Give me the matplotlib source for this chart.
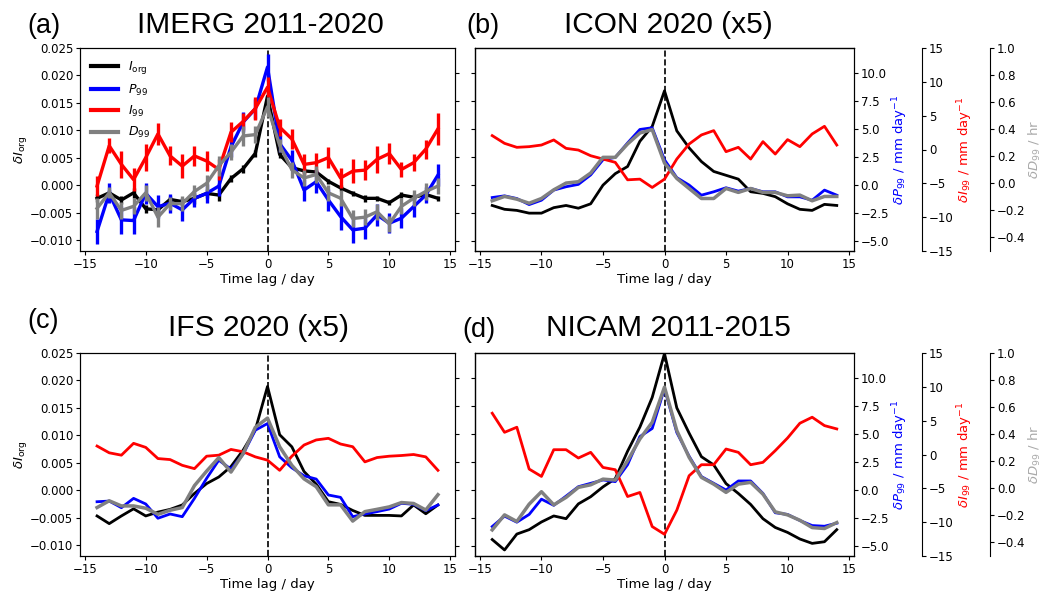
import matplotlib
matplotlib.use("Agg")
import matplotlib.pyplot as plt

days = list(range(-14, 15))

# (a) IMERG 2011-2020, with error bars
imerg_iorg = [-0.0024, -0.0014, -0.0027, -0.0014, -0.0043, -0.0045, -0.0026, -0.0030, -0.0024, -0.0015,
              -0.0018, 0.0012, 0.0030, 0.0058, 0.0162, 0.0056, 0.0032, 0.0026, 0.0024, 0.0007,
              -0.0005, -0.0015, -0.0024, -0.0024, -0.0032, -0.0018, -0.0022, -0.0017, -0.0024]
imerg_p99 = [-4.13, -0.74, -3.10, -3.16, -0.74, -1.92, -1.62, -2.21, -1.18, -0.74,
             -0.09, 3.40, 5.60, 6.79, 10.5, 3.69, 2.21, -0.44, 0.30, -1.33,
             -2.80, -3.99, -3.84, -2.66, -3.40, -2.95, -1.92, -0.89, 0.89]
imerg_i99 = [-5.4, 0.55, -2.2, -4.45, -1.2, 2.3, -0.95, -2.45, -0.95, -1.7,
             -2.95, 2.55, 4.15, 6.05, 9.2, 3.3, 1.55, -2.2, -1.95, -1.2,
             -4.2, -3.2, -3.05, -1.45, -0.6, -2.95, -1.95, 0.05, 3.05]
imerg_d99 = [-0.185, -0.07, -0.20, -0.17, -0.07, -0.25, -0.15, -0.15, -0.06, 0.0,
             0.13, 0.23, 0.35, 0.36, 0.565, 0.28, 0.10, 0.04, 0.065, -0.07,
             -0.11, -0.26, -0.25, -0.21, -0.30, -0.17, -0.11, -0.06, -0.02]
imerg_iorg_err = [0.0007, 0.0006, 0.0008, 0.0009, 0.0007, 0.0007, 0.0006, 0.0007, 0.0010, 0.0008,
                  0.0010, 0.0006, 0.0007, 0.0007, 0.0012, 0.0006, 0.0005, 0.0005, 0.0005, 0.0005,
                  0.0005, 0.0005, 0.0006, 0.0005, 0.0005, 0.0005, 0.0005, 0.0005, 0.0005]
imerg_p99_err = [1.1, 0.9, 1.25, 1.2, 0.95, 1.0, 0.85, 1.0, 0.75, 0.85,
                 0.9, 0.9, 0.9, 0.9, 1.2, 0.75, 0.9, 1.0, 1.0, 1.0,
                 1.2, 1.2, 1.0, 1.0, 0.9, 0.9, 0.9, 0.75, 1.0]
imerg_i99_err = [1.5, 1.1, 2.0, 1.75, 2.0, 1.65, 1.4, 1.75, 1.5, 1.5,
                 1.5, 1.5, 1.25, 1.75, 1.5, 1.25, 1.5, 1.5, 1.5, 1.5,
                 1.5, 1.75, 1.5, 2.0, 1.5, 1.1, 1.25, 1.4, 2.4]
imerg_d99_err = [0.075, 0.04, 0.06, 0.06, 0.06, 0.075, 0.05, 0.055, 0.05, 0.06,
                 0.075, 0.06, 0.075, 0.06, 0.075, 0.05, 0.06, 0.06, 0.06, 0.06,
                 0.06, 0.06, 0.06, 0.06, 0.06, 0.06, 0.06, 0.06, 0.06]

# (b) ICON 2020 (x5)
icon_iorg = [-0.0037, -0.0044, -0.0046, -0.0051, -0.0051, -0.0041, -0.0037, -0.0042, -0.0034, 0.0,
             0.0021, 0.0034, 0.0080, 0.0107, 0.0172, 0.0099, 0.0068, 0.0043, 0.0025, 0.0018,
             0.0011, -0.0012, -0.0015, -0.0021, -0.0034, -0.0044, -0.0046, -0.0035, -0.0037]
icon_p99 = [-1.11, -0.96, -1.20, -1.74, -1.35, -0.45, -0.15, 0.06, 0.90, 2.25,
            2.46, 3.75, 4.95, 5.10, 2.25, 0.66, 0.0, -0.90, -0.60, -0.24,
            -0.54, -0.30, -0.60, -0.60, -1.05, -1.05, -1.35, -0.45, -0.90]
icon_i99 = [2.05, 0.91, 0.32, 0.42, 0.66, 1.41, 0.17, -0.08, -0.92, -1.41,
            -1.90, -4.48, -4.38, -5.61, -4.38, -1.41, 0.81, 2.15, 2.79, -0.32,
            0.32, -1.41, 1.16, -0.67, 1.46, 0.42, 2.30, 3.43, 0.66]
icon_d99 = [-0.129, -0.097, -0.117, -0.147, -0.112, -0.048, 0.002, 0.012, 0.076, 0.192,
            0.192, 0.291, 0.372, 0.397, 0.150, 0.036, -0.038, -0.112, -0.112, -0.038,
            -0.067, -0.038, -0.067, -0.067, -0.092, -0.087, -0.129, -0.097, -0.097]

# (c) IFS 2020 (x5)
ifs_iorg = [-0.0047, -0.0061, -0.0047, -0.0034, -0.0047, -0.0040, -0.0035, -0.0027, -0.0006, 0.0012,
            0.0024, 0.0043, 0.0073, 0.0110, 0.0189, 0.0101, 0.0079, 0.0034, 0.0011, -0.0021,
            -0.0026, -0.0037, -0.0046, -0.0046, -0.0046, -0.0047, -0.0027, -0.0043, -0.0027]
ifs_p99 = [-1.04, -0.98, -1.57, -0.74, -1.24, -2.51, -2.13, -2.37, -0.74, 1.04,
           2.66, 1.86, 3.20, 5.33, 5.92, 2.96, 1.98, 1.27, 0.98, -0.44,
           -0.65, -2.37, -2.13, -1.92, -1.69, -1.18, -1.27, -1.83, -1.33]
ifs_i99 = [1.25, 0.25, -0.10, 1.65, 1.05, -0.60, -0.75, -1.60, -2.09, -0.25,
           -0.10, 0.75, 0.40, -0.35, -0.84, -2.34, -0.25, 1.40, 2.15, 2.39,
           1.55, 1.15, -1.09, -0.45, -0.25, -0.15, 0.0, -0.35, -2.34]
ifs_d99 = [-0.142, -0.092, -0.130, -0.130, -0.147, -0.192, -0.162, -0.142, 0.020, 0.127,
           0.227, 0.120, 0.257, 0.451, 0.519, 0.307, 0.170, 0.070, 0.012, -0.122,
           -0.122, -0.242, -0.172, -0.155, -0.137, -0.105, -0.112, -0.160, -0.047]

# (d) NICAM 2011-2015
nicam_iorg = [-0.0090, -0.0109, -0.0080, -0.0072, -0.0058, -0.0047, -0.0052, -0.0025, -0.0012, 0.0006,
              0.0021, 0.0071, 0.0115, 0.0169, 0.0249, 0.0150, 0.0104, 0.0061, 0.0046, 0.0012,
              -0.0006, -0.0026, -0.0052, -0.0068, -0.0077, -0.0089, -0.0097, -0.0094, -0.0072]
nicam_p99 = [-3.25, -2.32, -2.86, -2.17, -0.81, -1.36, -0.54, 0.30, 0.60, 0.90,
             0.75, 2.26, 4.76, 5.48, 9.04, 5.12, 3.01, 1.20, 0.60, 0.0,
             0.81, 0.81, -0.30, -2.02, -2.17, -2.71, -3.16, -3.22, -2.95]
nicam_i99 = [6.10, 3.28, 4.03, -2.15, -3.24, 0.71, 0.71, -0.52, 0.32, -1.91,
             -2.25, -6.21, -5.61, -10.65, -11.79, -8.23, -3.14, -1.51, -1.51, 0.81,
             0.32, -1.51, -1.16, 0.57, 2.44, 4.62, 5.51, 4.27, 3.78]
nicam_d99 = [-0.307, -0.196, -0.245, -0.117, -0.025, -0.122, -0.067, 0.007, 0.026, 0.068,
             0.061, 0.204, 0.365, 0.488, 0.748, 0.427, 0.229, 0.081, 0.031, -0.030,
             0.031, 0.044, -0.043, -0.174, -0.196, -0.236, -0.290, -0.297, -0.253]

W, H = 1051, 591
fig = plt.figure(figsize=(W / 100, H / 100), dpi=100)

TITLE_FONT = ["Liberation Sans", "DejaVu Sans"]


def px_rect(x0, y0, x1, y1):
    return [x0 / W, 1 - y1 / H, (x1 - x0) / W, (y1 - y0) / H]


def panel(rect, iorg, p99, i99, d99, errs=None, right=False, legend=False):
    ax = fig.add_axes(rect)
    axp = ax.twinx()
    axi = ax.twinx()
    axd = ax.twinx()
    lw = 2.4 if errs else 2.0
    series = [(ax, iorg, "k", r"$I_{\rm org}$"), (axp, p99, "b", r"$P_{99}$"),
              (axi, i99, "r", r"$I_{99}$"), (axd, d99, "gray", r"$D_{99}$")]
    handles = []
    for i, (a, vals, c, lab) in enumerate(series):
        w = lw + 0.5 if c == "gray" and not errs else lw
        if errs:
            a.errorbar(days, vals, yerr=errs[i], color=c, lw=w, elinewidth=w)
            h, = a.plot([], [], color=c, lw=3, label=lab)
        else:
            h, = a.plot(days, vals, color=c, lw=w, label=lab)
        handles.append(h)

    ax.axvline(0, color="k", ls="--", lw=1.2)
    ax.set_xlim(-15.4, 15.4)
    ax.set_ylim(-0.012, 0.025)
    ax.set_yticks([-0.010, -0.005, 0.0, 0.005, 0.010, 0.015, 0.020, 0.025])
    axp.set_ylim(-5.87, 12.2)
    axp.set_yticks([-5, -2.5, 0, 2.5, 5, 7.5, 10])
    axi.set_ylim(-15, 15)
    axi.set_yticks([-15, -10, -5, 0, 5, 10, 15])
    axd.set_ylim(-0.5, 1.0)
    axd.set_yticks([-0.4, -0.2, 0.0, 0.2, 0.4, 0.6, 0.8, 1.0])
    for a in (ax, axp, axi, axd):
        a.tick_params(labelsize=8.5, length=3, pad=1.8)
    ax.tick_params(axis="x", pad=2.2)
    ax.set_xlabel("Time lag / day", fontsize=9.5, labelpad=1)

    if right:
        ax.tick_params(left=False, labelleft=False)
        axp.yaxis.set_ticks_position("both")
        axp.tick_params(labelleft=False, labelright=True)
        axi.spines["right"].set_position(("axes", 1.18))
        axd.spines["right"].set_position(("axes", 1.36))
        axp.set_ylabel(r"$\delta P_{99}$ / mm day$^{-1}$", color="b", fontsize=9.5, labelpad=1)
        axi.set_ylabel(r"$\delta I_{99}$ / mm day$^{-1}$", color="r", fontsize=9.5, labelpad=1)
        axd.set_ylabel(r"$\delta D_{99}$ / hr", color="darkgray", fontsize=9.5, labelpad=1)
    else:
        ax.set_ylabel(r"$\delta I_{\rm org}$", fontsize=9.5, labelpad=1)
        axp.tick_params(labelright=False)
        axi.set_axis_off()
        axd.set_axis_off()

    if legend:
        axd.legend(handles=handles, loc="upper left", frameon=False, fontsize=9,
                   handlelength=2.1, labelspacing=0.5)
    return ax


panel(px_rect(80, 48, 455, 251), imerg_iorg, imerg_p99, imerg_i99, imerg_d99,
      errs=[imerg_iorg_err, imerg_p99_err, imerg_i99_err, imerg_d99_err], legend=True)
panel(px_rect(475, 48, 854, 251), icon_iorg, icon_p99, icon_i99, icon_d99, right=True)
panel(px_rect(80, 353, 455, 556), ifs_iorg, ifs_p99, ifs_i99, ifs_d99)
panel(px_rect(475, 353, 854, 556), nicam_iorg, nicam_p99, nicam_i99, nicam_d99, right=True)

# panel letters and titles (placed in pixels)
for label, x, y in [("(a)", 27, 33), ("(b)", 466, 33), ("(c)", 27, 328), ("(d)", 462, 337)]:
    fig.text(x / W, 1 - y / H, label, fontsize=19.5, family=TITLE_FONT, ha="left", va="baseline")
for title, x, y in [("IMERG 2011-2020", 260, 33), ("ICON 2020 (x5)", 668, 33),
                    ("IFS 2020 (x5)", 259, 336), ("NICAM 2011-2015", 668, 336)]:
    fig.text(x / W, 1 - y / H, title, fontsize=21.5, family=TITLE_FONT, ha="center", va="baseline")

fig.savefig("out.png", dpi=100)
